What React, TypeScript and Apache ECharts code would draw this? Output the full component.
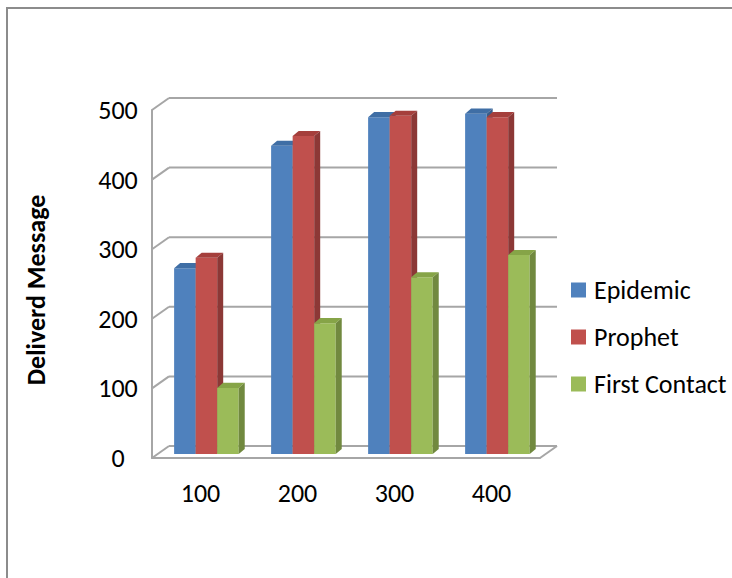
import React, { useEffect, useRef } from "react";
import * as echarts from "echarts";

// Number of nodes per scenario and delivered message counts per routing protocol
const categories = ["100", "200", "300", "400"];
const epidemic = [267, 443, 484, 489];
const prophet = [282, 457, 486, 484];
const firstContact = [95, 188, 254, 286];
const wallTicks = [0, 100, 200, 300, 400, 500];

const FONT = "Carlito, Calibri, Lato, 'Open Sans', sans-serif";
const GRID_COLOR = "#a6a6a6";

// back wall offset (depth of the 3-D box)
const DX = 17;
const DY = 12;

type Shade = { front: string; top: string; side: string };

const shades: Shade[] = [
  { front: "#4f81bd", top: "#3f6ea5", side: "#385d8a" },
  { front: "#c0504d", top: "#a53f3c", side: "#8c3836" },
  { front: "#9bbb59", top: "#86a447", side: "#71893f" },
];

function barRenderer(k: number, c: Shade) {
  return (_params: any, api: any) => {
    const ci = api.value(0);
    const v = api.value(1);
    const bw = api.size([1, 0])[0];
    const top = api.coord([ci, v]);
    const base = api.coord([ci, 0]);
    const w = bw * 0.222;
    const dx = bw * 0.062;
    const dy = bw * 0.052;
    const x0 = top[0] - bw * 0.272 + k * w;
    const yt = top[1] - 4;
    const yb = base[1] - 4;
    return {
      type: "group",
      children: [
        {
          type: "polygon",
          shape: { points: [[x0, yb], [x0 + w, yb], [x0 + w, yt], [x0, yt]] },
          style: { fill: c.front },
        },
        {
          type: "polygon",
          shape: {
            points: [[x0, yt], [x0 + w, yt], [x0 + w + dx, yt - dy], [x0 + dx, yt - dy]],
          },
          style: { fill: c.top },
        },
        {
          type: "polygon",
          shape: {
            points: [[x0 + w, yt], [x0 + w + dx, yt - dy], [x0 + w + dx, yb - dy], [x0 + w, yb]],
          },
          style: { fill: c.side },
        },
      ],
    };
  };
}

function wallRenderer(_params: any, api: any) {
  const v = api.value(1);
  const bw = api.size([1, 0])[0];
  const p0 = api.coord([0, v]);
  const p3 = api.coord([categories.length - 1, v]);
  const left = p0[0] - bw / 2;
  const right = p3[0] + bw / 2;
  const y = p0[1];
  const style = { stroke: GRID_COLOR, lineWidth: 2 };
  const children: any[] = [
    { type: "line", shape: { x1: left + DX, y1: y - DY, x2: right + DX, y2: y - DY }, style },
    { type: "line", shape: { x1: left, y1: y, x2: left + DX, y2: y - DY }, style },
  ];
  if (v === 0) {
    children.push({ type: "line", shape: { x1: right, y1: y, x2: right + DX, y2: y - DY }, style });
  }
  return { type: "group", children };
}

export default function App() {
  const ref = useRef<HTMLDivElement>(null);

  useEffect(() => {
    document.body.style.margin = "0";
    document.body.style.overflow = "hidden";
    if (!ref.current) return;
    const chart = echarts.init(ref.current, null, { renderer: "svg" });
    const seriesData = [epidemic, prophet, firstContact];
    const names = ["Epidemic", "Prophet", "First Contact"];
    const frameStyle = { stroke: "#8c8c8c", lineWidth: 2 };

    chart.setOption({
      animation: false,
      backgroundColor: "#ffffff",
      textStyle: { fontFamily: FONT },
      graphic: [
        {
          type: "line",
          shape: { x1: 6, y1: 8, x2: 732, y2: 8 },
          style: frameStyle,
          silent: true,
        },
        {
          type: "line",
          shape: { x1: 7, y1: 7, x2: 7, y2: 578 },
          style: frameStyle,
          silent: true,
        },
      ],
      grid: {
        left: 152,
        top: 110,
        width: 388,
        height: 348,
        containLabel: false,
        outerBoundsMode: "none",
      },
      legend: {
        orient: "vertical",
        left: 571,
        top: 277,
        icon: "rect",
        itemWidth: 15,
        itemHeight: 15,
        itemGap: 21,
        padding: 0,
        data: names,
        textStyle: {
          fontFamily: FONT,
          fontSize: 26,
          color: "#000",
          lineHeight: 26,
          padding: [0, 0, 0, 3],
        },
      },
      xAxis: {
        type: "category",
        data: categories,
        axisLine: { show: true, lineStyle: { color: GRID_COLOR, width: 2 } },
        axisTick: { show: false },
        splitLine: { show: false },
        axisLabel: { fontFamily: FONT, fontSize: 26, color: "#000", margin: 22 },
      },
      yAxis: {
        type: "value",
        min: 0,
        max: 500,
        interval: 100,
        name: "Deliverd Message",
        nameLocation: "middle",
        nameRotate: 90,
        nameGap: 103,
        nameTextStyle: {
          fontFamily: FONT,
          fontSize: 26,
          fontWeight: "bold",
          color: "#000",
          padding: [0, 12, 0, 0],
        },
        axisLine: { show: true, lineStyle: { color: GRID_COLOR, width: 2 } },
        axisTick: { show: false },
        splitLine: { show: false },
        axisLabel: { fontFamily: FONT, fontSize: 26, color: "#000", margin: 34, align: "center" },
      },
      series: [
        {
          type: "custom",
          name: "walls",
          renderItem: wallRenderer,
          data: wallTicks.map((t) => [0, t]),
          silent: true,
          z: 1,
          clip: false,
        },
        ...seriesData.map((vals, k) => ({
          type: "custom",
          name: names[k],
          renderItem: barRenderer(k, shades[k]),
          itemStyle: { color: shades[k].front },
          data: vals.map((v, i) => [i, v]),
          z: 2 + k,
          clip: false,
        })),
      ],
    });

    return () => chart.dispose();
  }, []);

  return <div ref={ref} style={{ width: 732, height: 578 }} />;
}
